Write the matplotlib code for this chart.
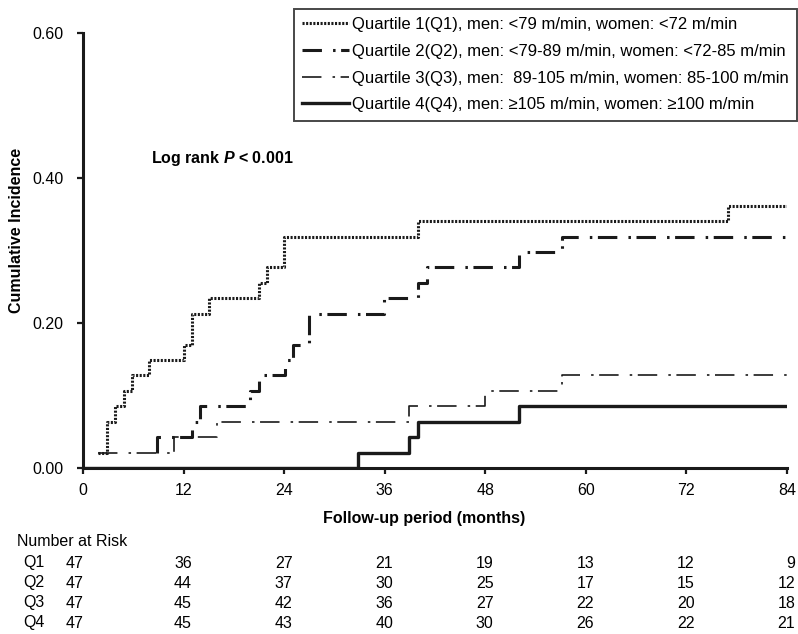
import matplotlib
matplotlib.use("Agg")
import matplotlib.pyplot as plt
from matplotlib.lines import Line2D

plt.rcParams['font.family'] = ['Liberation Sans', 'DejaVu Sans']
plt.rcParams['font.size'] = 11.5
plt.rcParams['mathtext.fontset'] = 'custom'
plt.rcParams['mathtext.it'] = 'Liberation Sans:italic:bold'
plt.rcParams['lines.scale_dashes'] = False

# step curves: month of each change and cumulative incidence from then on
q1_t = [1.8, 2.9, 3.8, 4.9, 5.9, 7.9, 12.0, 13.0, 15.0, 21.0, 21.9, 24.0, 40.0, 77.0, 84.0]
q1_v = [0.021, 0.064, 0.085, 0.106, 0.128, 0.149, 0.170, 0.213, 0.234, 0.255, 0.277, 0.319, 0.340, 0.362, 0.362]

q2_t = [8.8, 8.8, 13.0, 14.0, 19.9, 21.0, 24.1, 25.0, 27.0, 35.9, 40.0, 41.0, 52.0, 57.1, 84.0]
q2_v = [0.021, 0.043, 0.064, 0.085, 0.106, 0.128, 0.149, 0.170, 0.213, 0.234, 0.255, 0.277, 0.298, 0.319, 0.319]

q3_t = [1.8, 10.9, 16.0, 38.9, 48.0, 57.1, 84.0]
q3_v = [0.021, 0.043, 0.064, 0.085, 0.106, 0.128, 0.128]

q4_t = [0.0, 32.8, 38.9, 40.0, 52.0, 84.0]
q4_v = [0.0, 0.021, 0.043, 0.064, 0.085, 0.085]

labels = [
    "Quartile 1(Q1), men: <79 m/min, women: <72 m/min",
    "Quartile 2(Q2), men: <79-89 m/min, women: <72-85 m/min",
    "Quartile 3(Q3), men:  89-105 m/min, women: 85-100 m/min",
    "Quartile 4(Q4), men: \u2265105 m/min, women: \u2265100 m/min",
]

risk_times = [0, 12, 24, 36, 48, 60, 72, 84]
risk_names = ["Q1", "Q2", "Q3", "Q4"]
risk_q1 = [47, 36, 27, 21, 19, 13, 12, 9]
risk_q2 = [47, 44, 37, 30, 25, 17, 15, 12]
risk_q3 = [47, 45, 42, 36, 27, 22, 20, 18]
risk_q4 = [47, 45, 43, 40, 30, 26, 22, 21]

ink = '#1a1a1a'
styles = [
    dict(lw=2.2, dashes=(1.5, 1.1)),
    dict(lw=2.2, dashes=(14, 8, 1.8, 4)),
    dict(lw=1.2, dashes=(14, 8, 1.8, 4)),
    dict(lw=2.4, linestyle='-'),
]

fig = plt.figure(figsize=(7.98, 6.34), dpi=100)
ax = fig.add_axes([83 / 798, 1 - 468 / 634, 704 / 798, 435 / 634])

curves = [(q1_t, q1_v), (q2_t, q2_v), (q3_t, q3_v), (q4_t, q4_v)]
for (t, v), st in zip(curves, styles):
    ax.plot(t, v, drawstyle='steps-post', color=ink, **st)

ax.set_xlim(0, 84)
ax.set_ylim(0, 0.6)
ax.set_xticks(risk_times)
ax.set_yticks([0, 0.2, 0.4, 0.6])
ax.set_yticklabels(["0.00", "0.20", "0.40", "0.60"])
for s in ['top', 'right']:
    ax.spines[s].set_visible(False)
for s in ['left', 'bottom']:
    ax.spines[s].set_linewidth(2.2)
    ax.spines[s].set_color(ink)
ax.tick_params(axis='both', direction='out', length=4, width=1.6, color=ink, labelsize=11.5)
ax.tick_params(axis='y', pad=10)
ax.tick_params(axis='x', pad=7)

ax.set_xlabel("Follow-up period (months)", fontweight='bold', fontsize=11.5)
ax.xaxis.set_label_coords((424 - 83) / 704, (468 - 519) / 435)
ax.xaxis.label.set_va('center')
ax.set_ylabel("Cumulative Incidence", fontweight='bold', fontsize=11.5)
ax.yaxis.set_label_coords((17 - 83) / 704, (468 - 230) / 435)
ax.yaxis.label.set_va('center')

ax.text((151 - 83) / 704, (468 - 158) / 435, r"Log rank $\mathit{P}$ < 0.001",
        transform=ax.transAxes, fontweight='bold', fontsize=11.5, va='center', ha='left')

handles = [Line2D([], [], color=ink, **st) for st in styles]
leg = fig.legend(handles, labels, loc='upper right', bbox_to_anchor=(797 / 798, 1 - 9 / 634),
                 bbox_transform=fig.transFigure, frameon=True, fancybox=False, shadow=False,
                 borderaxespad=0, handlelength=2.8, handletextpad=0.2, labelspacing=0.7,
                 borderpad=0.5, fontsize=12)
leg.get_frame().set_edgecolor(ink)
leg.get_frame().set_linewidth(1.4)

# number at risk table
fig.text(17 / 798, 1 - 541 / 634, "Number at Risk", ha='left', va='center', fontsize=11.5)
rows = [risk_q1, risk_q2, risk_q3, risk_q4]
for i, (name, row) in enumerate(zip(risk_names, rows)):
    y = 1 - (563 + 20 * i) / 634
    fig.text(23 / 798, y, name, ha='left', va='center', fontsize=11.5)
    for t, n in zip(risk_times, row):
        dx = 0 if t == 0 else 6
        ax.annotate(str(n), xy=(t, y), xycoords=('data', 'figure fraction'),
                    xytext=(dx, 0), textcoords='offset points',
                    ha='right', va='center', fontsize=11.5, annotation_clip=False)

fig.savefig("out.png", dpi=100)
